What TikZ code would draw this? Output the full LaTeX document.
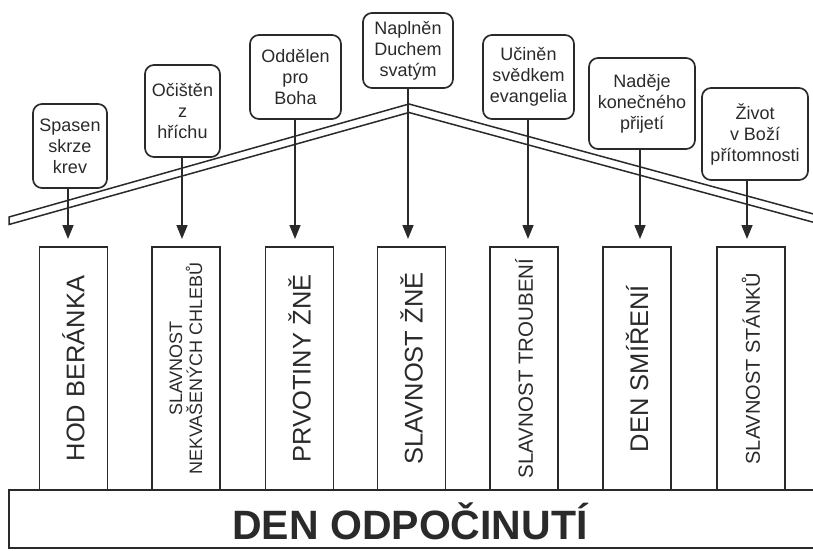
\documentclass[tikz,border=0pt]{standalone}
\usepackage{fontspec}
\setmainfont{Liberation Sans}
\usetikzlibrary{arrows.meta}
\definecolor{ink}{HTML}{2A2A2A}
\begin{document}
\begin{tikzpicture}[x=1pt,y=-1pt,
  callout/.style={draw=ink, line width=1.7pt, rounded corners=9pt, align=center,
    inner sep=0pt, text=ink, font=\fontsize{18}{21}\selectfont},
  pillar/.style={draw=ink, line width=1.5pt, rotate=90, minimum width=243pt,
    minimum height=68pt, inner sep=0pt, text=ink, align=center},
  bigtxt/.style={font=\fontsize{25.5}{28}\selectfont},
  conn/.style={draw=ink, line width=1.5pt, -{Triangle[length=14pt,width=11pt]}},
  roofline/.style={draw=ink, line width=1.5pt, fill=white, line join=miter}
]
\useasboundingbox (0,0) rectangle (813,550);
\clip (0,0) rectangle (813,550);

% base
\path[draw=ink, line width=1.5pt, fill=white] (9,490) rectangle (840,548);
\node[anchor=base, text=ink, inner sep=0pt, font=\fontsize{41}{48}\bfseries] (title) at (410,539) {DEN ODPOČINUTÍ};

% pillars
\node[pillar, bigtxt] (p1) at (73.5,368.5) {HOD BERÁNKA};
\node[pillar, font=\fontsize{18}{20}\selectfont] (p2) at (186,368.5) {SLAVNOST\\NEKVAŠENÝCH CHLEBŮ};
\node[pillar, bigtxt] (p3) at (299.5,368.5) {PRVOTINY ŽNĚ};
\node[pillar, bigtxt] (p4) at (411.5,368.5) {SLAVNOST ŽNĚ};
\node[pillar, font=\fontsize{20.5}{24}\selectfont] (p5) at (524,368.5) {SLAVNOST TROUBENÍ};
\node[pillar, bigtxt] (p6) at (637,368.5) {DEN SMÍŘENÍ};
\node[pillar, font=\fontsize{20}{24}\selectfont] (p7) at (751,368.5) {SLAVNOST STÁNKŮ};

% roof
\path[roofline] (9,217) -- (409,104) -- (840,221.2) -- (840,229.5) -- (409,112.5) -- (9,224.5) -- cycle;

% callouts
\node[callout, minimum width=74pt, minimum height=84pt] (b1) at (70,146) {Spasen\\skrze\\krev};
\node[callout, minimum width=75pt, minimum height=92pt] (b2) at (182.5,111) {Očištěn\\z\\hříchu};
\node[callout, minimum width=91pt, minimum height=84pt] (b3) at (295.5,77) {Oddělen\\pro\\Boha};
\node[callout, minimum width=90pt, minimum height=75pt] (b4) at (408,50.5) {Naplněn\\Duchem\\svatým};
\node[callout, minimum width=91pt, minimum height=84pt] (b5) at (528.5,77) {Učiněn\\svědkem\\evangelia};
\node[callout, minimum width=106pt, minimum height=91pt] (b6) at (642,103.5) {Naděje\\konečného\\přijetí};
\node[callout, minimum width=106pt, minimum height=92pt] (b7) at (755,134) {Život\\v Boží\\přítomnosti};

% arrow tips
\coordinate (t1) at (68,239);
\coordinate (t2) at (182,239);
\coordinate (t3) at (295,239);
\coordinate (t4) at (408,239);
\coordinate (t5) at (528,239);
\coordinate (t6) at (640,239);
\coordinate (t7) at (747,239);

\draw[conn] (b1.south -| t1) -- (t1);
\draw[conn] (b2.south -| t2) -- (t2);
\draw[conn] (b3.south -| t3) -- (t3);
\draw[conn] (b4.south -| t4) -- (t4);
\draw[conn] (b5.south -| t5) -- (t5);
\draw[conn] (b6.south -| t6) -- (t6);
\draw[conn] (b7.south -| t7) -- (t7);
\end{tikzpicture}
\end{document}
